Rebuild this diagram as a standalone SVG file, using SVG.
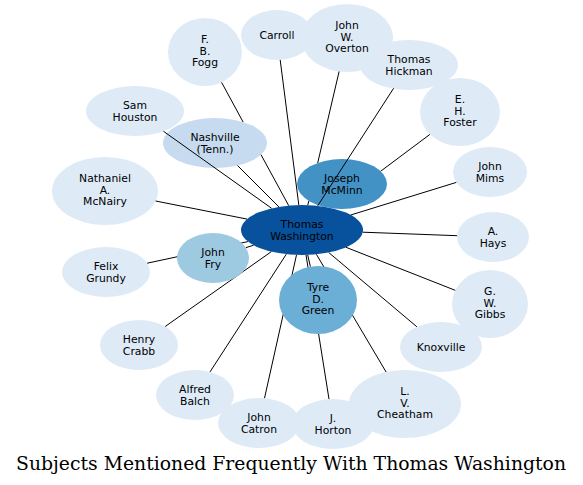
<svg xmlns="http://www.w3.org/2000/svg" width="583" height="485" viewBox="0 0 583 485">
<style>
  .lt { fill: #deebf7; }
  text { font-family: "DejaVu Sans", Verdana, sans-serif; font-size: 10.8px; fill: #000; text-anchor: middle; }
  .edges line, .edges path { stroke: #000; stroke-width: 1; fill: none; }
  .title { font-family: "DejaVu Serif", "Liberation Serif", serif; font-size: 18px; }
</style>
<rect width="583" height="485" fill="#fff"/>
<g id="thomas-washington"><ellipse cx="302" cy="230" rx="61" ry="25" fill="#08519c"/><text x="302" y="227.5">Thomas</text><text x="302" y="239.5">Washington</text></g>
<g id="joseph-mcminn"><ellipse cx="342" cy="184" rx="45" ry="25" fill="#4292c6"/><text x="342" y="181.5">Joseph</text><text x="342" y="193.5">McMinn</text></g>
<g id="nashville"><ellipse cx="215" cy="143" rx="52" ry="25" fill="#c6dbef"/><text x="215" y="140.5">Nashville</text><text x="215" y="152.5">(Tenn.)</text></g>
<g id="sam-houston"><ellipse class="lt" cx="135" cy="111" rx="49" ry="25"/><text x="135" y="108.5">Sam</text><text x="135" y="120.5">Houston</text></g>
<g id="nathaniel-mcnairy"><ellipse class="lt" cx="105" cy="191" rx="53" ry="34"/><text x="105" y="182">Nathaniel</text><text x="105" y="193.5">A.</text><text x="105" y="205">McNairy</text></g>
<g id="felix-grundy"><ellipse class="lt" cx="106" cy="272" rx="44" ry="25"/><text x="106" y="269.5">Felix</text><text x="106" y="281.5">Grundy</text></g>
<g id="henry-crabb"><ellipse class="lt" cx="139" cy="345" rx="39" ry="25"/><text x="139" y="342.5">Henry</text><text x="139" y="354.5">Crabb</text></g>
<g id="alfred-balch"><ellipse class="lt" cx="195" cy="395" rx="39" ry="25"/><text x="195" y="392.5">Alfred</text><text x="195" y="404.5">Balch</text></g>
<g id="john-catron"><ellipse class="lt" cx="259" cy="423" rx="41" ry="25"/><text x="259" y="420.5">John</text><text x="259" y="432.5">Catron</text></g>
<g id="j-horton"><ellipse class="lt" cx="333" cy="424" rx="41" ry="25"/><text x="333" y="421.5">J.</text><text x="333" y="433.5">Horton</text></g>
<g id="lv-cheatham"><ellipse class="lt" cx="405" cy="404" rx="56" ry="34"/><text x="405" y="395">L.</text><text x="405" y="406.5">V.</text><text x="405" y="418">Cheatham</text></g>
<g id="knoxville"><ellipse class="lt" cx="441" cy="347" rx="41" ry="25"/><text x="441" y="350.5">Knoxville</text></g>
<g id="gw-gibbs"><ellipse class="lt" cx="490" cy="304" rx="38" ry="34"/><text x="490" y="295">G.</text><text x="490" y="306.5">W.</text><text x="490" y="318">Gibbs</text></g>
<g id="a-hays"><ellipse class="lt" cx="493" cy="237" rx="36" ry="25"/><text x="493" y="234.5">A.</text><text x="493" y="246.5">Hays</text></g>
<g id="john-mims"><ellipse class="lt" cx="490" cy="172" rx="37" ry="25"/><text x="490" y="169.5">John</text><text x="490" y="181.5">Mims</text></g>
<g id="eh-foster"><ellipse class="lt" cx="460" cy="112" rx="40" ry="34"/><text x="460" y="103">E.</text><text x="460" y="114.5">H.</text><text x="460" y="126">Foster</text></g>
<g id="thomas-hickman"><ellipse class="lt" cx="409" cy="65" rx="49" ry="25"/><text x="409" y="62.5">Thomas</text><text x="409" y="74.5">Hickman</text></g>
<g id="carroll"><ellipse class="lt" cx="277" cy="35" rx="36" ry="25"/><text x="277" y="38.5">Carroll</text></g>
<g id="john-w-overton"><ellipse class="lt" cx="347" cy="38" rx="46" ry="34"/><text x="347" y="29">John</text><text x="347" y="40.5">W.</text><text x="347" y="52">Overton</text></g>
<g id="fb-fogg"><ellipse class="lt" cx="205" cy="52" rx="37" ry="34"/><text x="205" y="43">F.</text><text x="205" y="54.5">B.</text><text x="205" y="66">Fogg</text></g>
<g class="edges" id="connectors">
  <line x1="322.5" y1="206.4" x2="322.4" y2="206.6"/>
  <line x1="307.7" y1="254.9" x2="310.4" y2="266.7"/>
  <line x1="253.6" y1="245.2" x2="245.8" y2="247.7"/>
  <line x1="278.9" y1="206.9" x2="237.5" y2="165.5"/>
  <line x1="271.6" y1="208.3" x2="163.5" y2="131.3"/>
  <line x1="247.1" y1="219.1" x2="155.6" y2="201.0"/>
  <line x1="247.9" y1="241.6" x2="147.2" y2="263.2"/>
  <line x1="271.4" y1="251.6" x2="165.2" y2="326.5"/>
  <line x1="286.3" y1="254.2" x2="210.0" y2="371.9"/>
  <line x1="296.5" y1="254.9" x2="264.5" y2="398.2"/>
  <line x1="306.0" y1="254.9" x2="329.0" y2="399.1"/>
  <line x1="316.4" y1="254.3" x2="386.1" y2="372.0"/>
  <line x1="328.7" y1="252.5" x2="416.9" y2="326.8"/>
  <line x1="346.0" y1="247.3" x2="455.2" y2="290.3"/>
  <line x1="362.7" y1="232.2" x2="457.1" y2="235.7"/>
  <line x1="350.7" y1="215.0" x2="456.3" y2="182.4"/>
  <line x1="380.7" y1="171.2" x2="429.9" y2="134.4"/>
  <line x1="317.7" y1="205.8" x2="393.6" y2="88.3"/>
  <path d="M307.8,205.1 L308.8,200.9 M317.7,163.0 L339.1,71.5"/>
  <line x1="298.8" y1="205.0" x2="280.2" y2="59.9"/>
  <path d="M288.7,205.6 L261.0,154.7 M243.1,122.0 L221.6,82.4"/>
</g>
<g id="tyre-d-green"><ellipse cx="318" cy="300" rx="39" ry="34" fill="#6baed6"/><text x="318" y="291">Tyre</text><text x="318" y="302.5">D.</text><text x="318" y="314">Green</text></g>
<g id="john-fry"><ellipse cx="213" cy="258" rx="36" ry="25" fill="#9ecae1"/><text x="213" y="255.5">John</text><text x="213" y="267.5">Fry</text></g>
<text class="title" x="291" y="470" textLength="550" lengthAdjust="spacingAndGlyphs">Subjects Mentioned Frequently With Thomas Washington</text>
</svg>
